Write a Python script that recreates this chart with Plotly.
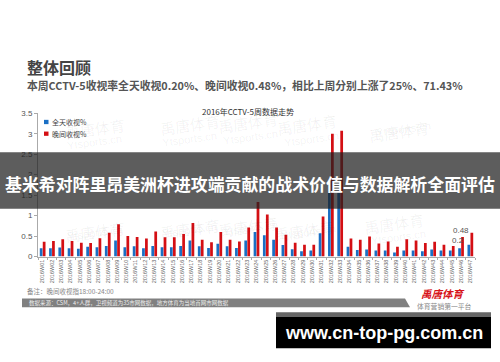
import plotly.graph_objects as go

W, H = 500, 362

weeks = ["2016W%02d" % i for i in range(1, 48)]
allday = [0.2, 0.2, 0.22, 0.2, 0.19, 0.24, 0.23, 0.26, 0.39, 0.23, 0.25, 0.2, 0.26, 0.23, 0.23, 0.26,
          0.39, 0.25, 0.21, 0.31, 0.25, 0.21, 0.39, 0.6, 0.52, 0.41, 0.28, 0.18, 0.13, 0.15, 0.57, 1.55,
          1.6, 0.24, 0.16, 0.17, 0.15, 0.15, 0.1, 0.15, 0.15, 0.13, 0.17, 0.15, 0.15, 0.2, 0.29]
evening = [0.36, 0.38, 0.42, 0.38, 0.34, 0.33, 0.45, 0.58, 0.79, 0.5, 0.48, 0.44, 0.61, 0.47, 0.47, 0.55,
           0.82, 0.41, 0.35, 0.6, 0.41, 0.37, 0.71, 1.33, 1.03, 0.71, 0.53, 0.34, 0.29, 0.29, 0.98, 3.0,
           3.07, 0.44, 0.41, 0.49, 0.32, 0.37, 0.24, 0.42, 0.39, 0.33, 0.36, 0.29, 0.26, 0.48, 0.58]
series_names = ["全天收视%", "晚间收视%"]
y_ticks = [0, 0.5, 1, 1.5, 2, 2.5, 3, 3.5]
label_idx = 45

BLUE = "#1a6fc4"
RED = "#d40f14"
CJK = "Noto Sans CJK SC"


def py(px):
    return 1 - px / H


def px_x(px):
    return px / W


fig = go.Figure()
fig.add_trace(go.Bar(x=weeks, y=allday, name=series_names[0], marker_color=BLUE,
                     marker_line_width=0, showlegend=False))
fig.add_trace(go.Bar(x=weeks, y=evening, name=series_names[1], marker_color=RED,
                     marker_line_width=0, showlegend=False))

shapes = []
ann = []

# watermarks
wm_pos = [(62, 128), (157, 124), (248, 122), (340, 124), (432, 114),
          (62, 233), (157, 230), (248, 228), (337, 232), (427, 225)]
for x, y in wm_pos:
    ann.append(dict(x=px_x(x), y=py(y), xref="paper", yref="paper", text="禹唐体育", showarrow=False,
                    font=dict(family=CJK, size=15, color="rgba(0,0,0,0.06)"), textangle=-8))
    ann.append(dict(x=px_x(x + 2), y=py(y + 14), xref="paper", yref="paper", text="Ytsports.cn",
                    showarrow=False, font=dict(family="Liberation Sans", size=11, color="rgba(0,0,0,0.06)"),
                    textangle=-8))

# titles
ann.append(dict(x=px_x(25), y=py(65), xref="paper", yref="paper", xanchor="left", yanchor="middle",
                text="<b>整体回顾</b>", showarrow=False, font=dict(family=CJK, size=16, color="#444")))
ann.append(dict(x=px_x(25), y=py(83), xref="paper", yref="paper", xanchor="left", yanchor="middle",
                text="<b>本周CCTV-5收视率全天收视0.20%、晚间收视0.48%，相比上周分别上涨了25%、71.43%</b>",
                showarrow=False, font=dict(family=CJK, size=10.8, color="#555")))
ann.append(dict(x=px_x(248), y=py(110), xref="paper", yref="paper", xanchor="center", yanchor="middle",
                text="2016年CCTV-5周数据走势", showarrow=False, font=dict(family=CJK, size=8, color="#333")))

# legend
for i, (nm, col) in enumerate(zip(series_names, [BLUE, RED])):
    yc = 121 + i * 12
    shapes.append(dict(type="rect", xref="paper", yref="paper", x0=px_x(44), x1=px_x(48.5),
                       y0=py(yc + 2.2), y1=py(yc - 2.2), fillcolor=col, line_width=0))
    ann.append(dict(x=px_x(50), y=py(yc), xref="paper", yref="paper", xanchor="left", yanchor="middle",
                    text=nm, showarrow=False, font=dict(family=CJK, size=7, color="#444")))

# value labels
ann.append(dict(x=weeks[label_idx], y=0.64, xref="x", yref="y", text=f"{evening[label_idx]:.2f}",
                showarrow=False, font=dict(family="Liberation Sans", size=8, color="#555")))
ann.append(dict(x=weeks[label_idx], y=0.38, xref="x", yref="y", text=f"{allday[label_idx]:g}",
                showarrow=False, xshift=-3, font=dict(family="Liberation Sans", size=8, color="#555")))

# banner
shapes.append(dict(type="rect", xref="paper", yref="paper", x0=0, x1=1, y0=py(210), y1=py(152),
                   fillcolor="rgba(30,30,30,0.72)", line_width=0, layer="above"))
ann.append(dict(x=0.5, y=py(184), xref="paper", yref="paper", xanchor="center", yanchor="middle",
                text="<b>基米希对阵里昂美洲杯进攻端贡献的战术价值与数据解析全面评估</b>", showarrow=False,
                font=dict(family=CJK, size=16.9, color="white")))

# footer
ann.append(dict(x=px_x(25), y=py(294), xref="paper", yref="paper", xanchor="left", yanchor="middle",
                text="备注：晚间收视指18:00-24:00", showarrow=False, font=dict(family=CJK, size=6.5, color="#888")))
shapes.append(dict(type="path", xref="paper", yref="paper",
                   path=f"M {px_x(22)} {py(302)} L {px_x(405)} {py(302)} L {px_x(410)} {py(311)} L {px_x(22)} {py(311)} Z",
                   fillcolor="#808080", line_width=0))
ann.append(dict(x=px_x(27), y=py(306.5), xref="paper", yref="paper", xanchor="left", yanchor="middle",
                text="数据来源：CSM，4+人群，卫视频道为35市网数据，地方体育为当地首网市网数据", showarrow=False,
                font=dict(family=CJK, size=5.5, color="#eee")))
ann.append(dict(x=px_x(443), y=py(296.5), xref="paper", yref="paper", xanchor="center", yanchor="middle",
                text="<b><i>禹唐体育</i></b>", showarrow=False, font=dict(family=CJK, size=10.5, color="#d7141a")))
ann.append(dict(x=px_x(444), y=py(310), xref="paper", yref="paper", xanchor="center", yanchor="middle",
                text="体育营销第一平台", showarrow=False, font=dict(family=CJK, size=6.8, color="#888")))

shapes.append(dict(type="rect", xref="paper", yref="paper", x0=px_x(276), x1=px_x(491), y0=py(321), y1=py(316),
                   fillcolor="#666", line_width=0, layer="above"))
shapes.append(dict(type="rect", xref="paper", yref="paper", x0=px_x(276), x1=px_x(491), y0=py(353), y1=py(321),
                   fillcolor="#000", line_width=0, layer="above"))
ann.append(dict(x=px_x(383.5), y=py(337), xref="paper", yref="paper", xanchor="center", yanchor="middle",
                text="<b>www.cn-top-pg.com.cn</b>", showarrow=False,
                font=dict(family="Liberation Sans", size=18, color="white")))

fig.update_layout(
    width=W, height=H, margin=dict(l=0, r=0, t=0, b=0),
    paper_bgcolor="white", plot_bgcolor="white",
    barmode="group", bargap=0.36, bargroupgap=0.08,
    shapes=shapes, annotations=ann,
    xaxis=dict(domain=[px_x(38), px_x(475)], tickangle=-90, tickfont=dict(family="Liberation Sans", size=5.5, color="#666"),
               showline=True, linecolor="#aaa", linewidth=1, ticks="outside", ticklen=2, tickcolor="#aaa",
               tickson="boundaries", showgrid=False, zeroline=False, fixedrange=True),
    yaxis=dict(domain=[py(259), py(112)], range=[0, 3.5], tickvals=y_ticks,
               ticktext=[f"{v:g}" for v in y_ticks], tickfont=dict(family="Liberation Sans", size=8, color="#555"),
               showline=True, linecolor="#aaa", linewidth=1, ticks="outside", ticklen=3, tickcolor="#aaa",
               showgrid=False, zeroline=False),
)

fig.write_html("out.html")
